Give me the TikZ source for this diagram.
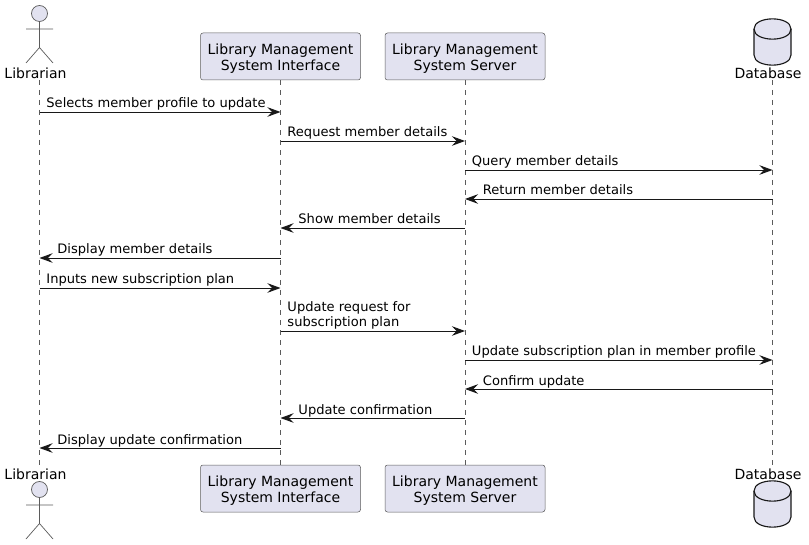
\documentclass[tikz,border=0pt]{standalone}
\usepackage{fontspec}
\setmainfont{DejaVu Sans}
\usetikzlibrary{arrows.meta,positioning}
\definecolor{partfill}{HTML}{E2E2F0}
\definecolor{partline}{HTML}{5B5B5B}
\definecolor{inkline}{HTML}{181818}
\newcommand{\firstline}{\rule{0pt}{14.5pt}}
\tikzset{
    partbox/.style={draw=partline,fill=partfill,rounded corners=2.5pt,line width=0.5pt,
        minimum width=160pt,minimum height=47pt,align=center,inner sep=0pt},
    partlab/.style={inner sep=0pt,minimum height=14pt},
    lifeline/.style={draw=partline,line width=0.5pt,dash pattern=on 5pt off 5pt},
    msgs/.style={every edge/.style={draw=inkline,line width=0.9pt,-{Stealth[length=13pt,width=9.5pt,inset=4.5pt]}}},
    msgtext/.style={inner sep=0pt,anchor=base west,align=left,font=\fontsize{13.05}{15.5}\selectfont},
    toright/.style={msgtext,at start,xshift=6.5pt,yshift=4pt},
    toleft/.style={msgtext,at end,xshift=17.5pt,yshift=4pt},
    actorfig/.pic={
        \draw[draw=partline,fill=partfill,line width=0.7pt] (0,0) circle (8pt);
        \draw[draw=partline,line width=0.7pt] (0,8) -- (0,34) (-13.5,15.5) -- (13.5,15.5)
            (-13.5,49.5) -- (0,34) -- (13.5,49.5);
    },
    dbfig/.pic={
        \draw[draw=inkline,fill=partfill,line width=1.1pt] (-18.5,10) .. controls (-18.5,-3.5) and (18.5,-3.5) .. (18.5,10)
            -- (18.5,36) .. controls (18.5,49.5) and (-18.5,49.5) .. (-18.5,36) -- cycle;
        \draw[draw=inkline,line width=1.1pt] (-18.5,10) .. controls (-18.5,23.5) and (18.5,23.5) .. (18.5,10);
    }
}
\begin{document}
\begin{tikzpicture}[x=1pt,y=-1pt,font=\fontsize{14}{16}\selectfont]
    \useasboundingbox (0,0) rectangle (809,545);

    \coordinate (libtop) at (39.5,80);
    \coordinate (libbot) at (39.5,466);
    \coordinate (dbtop) at (772.5,80);
    \coordinate (dbbot) at (772.5,466);
    \node (ui) [partbox] at (280.5,56.5) {\firstline Library Management\\System Interface};
    \node (srv) [partbox] at (465,56.5) {\firstline Library Management\\System Server};
    \node (uib) [partbox] at (280.5,488.5) {\firstline Library Management\\System Interface};
    \node (srvb) [partbox] at (465,488.5) {\firstline Library Management\\System Server};
    \path[lifeline] (libtop) -- (libbot);
    \path[lifeline] (ui) -- (uib);
    \path[lifeline] (srv) -- (srvb);
    \path[lifeline] (dbtop) -- (dbbot);

    \pic at (39.5,13.5) {actorfig};
    \pic at (39.5,489.5) {actorfig};
    \pic at (772.5,19) {dbfig};
    \pic at (772.5,481) {dbfig};
    \node (liblab) [partlab] at (35.5,73) {Librarian};
    \node (liblabb) [partlab] at (35.5,474) {Librarian};
    \node (dblab) [partlab] at (768,73) {Database};
    \node (dblabb) [partlab] at (768,474) {Database};

    % one row of end points per message
    \foreach \row/\ypos in {1/112,2/141,3/170,4/199,5/228,6/258,7/288,8/331,9/360,10/389,11/418,12/448} {
        \coordinate (lib\row) at (39.5,\ypos);
        \coordinate (ui\row) at (280.5,\ypos);
        \coordinate (srv\row) at (465,\ypos);
        \coordinate (db\row) at (772.5,\ypos);
    }

    \path[msgs] (lib1) edge node[toright]{Selects member profile to update} (ui1)
               (ui2)  edge node[toright]{Request member details} (srv2)
               (srv3) edge node[toright]{Query member details} (db3)
               (db4)  edge node[toleft]{Return member details} (srv4)
               (srv5) edge node[toleft]{Show member details} (ui5)
               (ui6)  edge node[toleft]{Display member details} (lib6)
               (lib7) edge node[toright]{Inputs new subscription plan} (ui7)
               (ui8)  edge node[toright]{Update request for\\subscription plan} (srv8)
               (srv9) edge node[toright]{Update subscription plan in member profile} (db9)
               (db10) edge node[toleft]{Confirm update} (srv10)
               (srv11) edge node[toleft]{Update confirmation} (ui11)
               (ui12) edge node[toleft]{Display update confirmation} (lib12);
\end{tikzpicture}
\end{document}
